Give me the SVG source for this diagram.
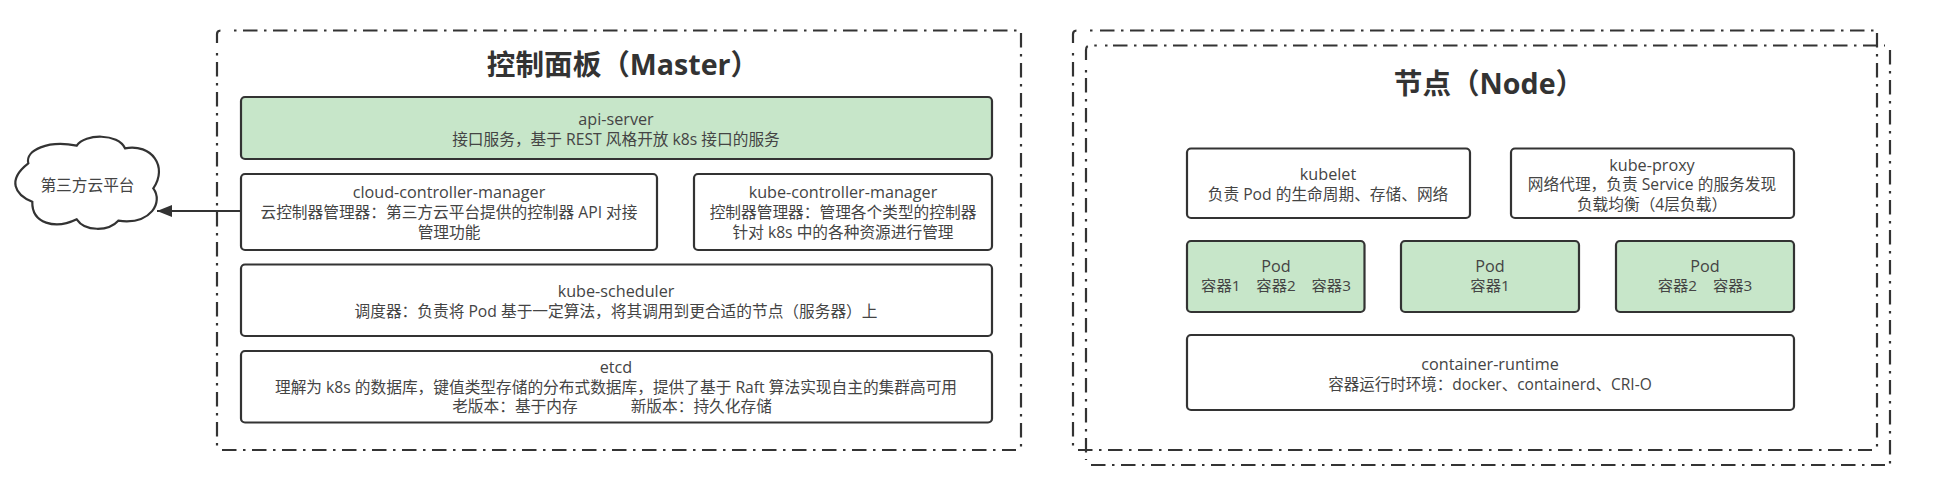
<svg xmlns="http://www.w3.org/2000/svg" width="1934" height="495" viewBox="0 0 1934 495">
<style>
text{font-family:"Open Sans","Noto Sans CJK SC","Noto Sans",sans-serif;font-size:15.7px;fill:#444;text-anchor:middle;white-space:pre}
.n{font-size:16.2px}
.c{font-size:15.3px}
.r{font-size:15.5px}
.t{font-size:28.6px;font-weight:700;fill:#333}
.b{fill:#fff;stroke:#333;stroke-width:2.2}
.g{fill:#c7e6c9;stroke:#333;stroke-width:2.2}
.d{fill:none;stroke:#333;stroke-width:2.2;stroke-dasharray:14.5 6.5 2.5 6.5}
</style>
<defs><marker id="arr" markerUnits="userSpaceOnUse" markerWidth="16" markerHeight="14" refX="15" refY="7" orient="auto"><path d="M0 1L15 7L0 13Z" fill="#333"/></marker></defs>
<rect width="1934" height="495" fill="#fff"/>
<g id="master"><path class="d" d="M217 43V34Q217 30.500 221 30.500H224M234 30.500h2.500M243 30.500H1017M1021 33V450M222 450H1016M217 62V446M217 53v2.500"/><text class="t" x="623" y="75">控制面板（Master）</text></g>
<g id="node-outer"><path class="d" d="M1073 43V34Q1073 30.500 1077 30.500H1080M1090 30.500h2.500M1100 30.500H1873.500M1877 33V450M1078 450H1872M1073 62V446M1073 53v2.500"/></g>
<g id="node"><path class="d" d="M1086 60V50Q1086 45.500 1090 45.500H1097M1105 45.500h2.500M1113 45.500H1885M1890 50V465M1091 465H1885M1086 78V460M1086 70v2.500"/><text class="t" x="1489" y="94">节点（Node）</text></g>
<g id="api-server"><rect class="g" x="241" y="97" width="751" height="62" rx="4"/><text class="n" x="616" y="125">api-server</text><text x="616" y="145">接口服务，基于 REST 风格开放 k8s 接口的服务</text></g>
<g id="cloud-controller-manager"><rect class="b" x="241" y="174" width="416" height="76" rx="4"/><text class="n" x="449" y="198">cloud-controller-manager</text><text x="449" y="218">云控制器管理器：第三方云平台提供的控制器 API 对接</text><text x="449" y="238">管理功能</text></g>
<g id="kube-controller-manager"><rect class="b" x="694" y="174" width="298" height="76" rx="4"/><text class="n" x="843" y="198">kube-controller-manager</text><text x="843" y="218">控制器管理器：管理各个类型的控制器</text><text x="843" y="238">针对 k8s 中的各种资源进行管理</text></g>
<g id="kube-scheduler"><rect class="b" x="241" y="264.500" width="751" height="71.500" rx="4"/><text class="n" x="616" y="297">kube-scheduler</text><text x="616" y="317">调度器：负责将 Pod 基于一定算法，将其调用到更合适的节点（服务器）上</text></g>
<g id="etcd"><rect class="b" x="241" y="351" width="751" height="71.500" rx="4"/><text class="n" x="616" y="373">etcd</text><text x="616" y="393">理解为 k8s 的数据库，键值类型存储的分布式数据库，提供了基于 Raft 算法实现自主的集群高可用</text><text x="612" y="412">老版本：基于内存             新版本：持久化存储</text></g>
<g id="cloud"><path d="M28.300 163.300C25 150 48.300 140 76.700 145.700C85 133.300 118.300 133.300 125 148.300C151.700 143.300 168.300 166.700 153.300 188.300C163.300 201.700 151.700 225 118.300 220.700C108.300 231.700 85 231.700 76.700 219.300C55 230 31.700 223.300 32.300 201.700C15 195 6.700 180 28.300 163.300Z" fill="#fff" stroke="#333" stroke-width="2.200"/><text x="87.500" y="190.500">第三方云平台</text></g>
<g id="kubelet"><rect class="b" x="1187" y="148.500" width="283" height="69.500" rx="4"/><text class="n" x="1328" y="180">kubelet</text><text x="1328" y="200">负责 Pod 的生命周期、存储、网络</text></g>
<g id="kube-proxy"><rect class="b" x="1511" y="148.500" width="283" height="69.500" rx="4"/><text class="n" x="1652" y="171">kube-proxy</text><text x="1652" y="190">网络代理，负责 Service 的服务发现</text><text x="1652" y="210">负载均衡（4层负载）</text></g>
<g id="pod-1"><rect class="g" x="1187" y="241" width="177.500" height="71" rx="4"/><text class="n" x="1276" y="272">Pod</text><text class="c" x="1276" y="291">容器1    容器2    容器3</text></g>
<g id="pod-2"><rect class="g" x="1401" y="241" width="178" height="71" rx="4"/><text class="n" x="1490" y="272">Pod</text><text class="c" x="1490" y="291">容器1</text></g>
<g id="pod-3"><rect class="g" x="1616" y="241" width="178" height="71" rx="4"/><text class="n" x="1705" y="272">Pod</text><text class="c" x="1705" y="291">容器2    容器3</text></g>
<g id="container-runtime"><rect class="b" x="1187" y="335" width="607" height="75" rx="4"/><text class="n" x="1490" y="370">container-runtime</text><text class="r" x="1490" y="390">容器运行时环境：docker、containerd、CRI-O</text></g>
<g id="connectors"><path d="M241 211H157" fill="none" stroke="#333" stroke-width="2.200" marker-end="url(#arr)"/></g>
</svg>
